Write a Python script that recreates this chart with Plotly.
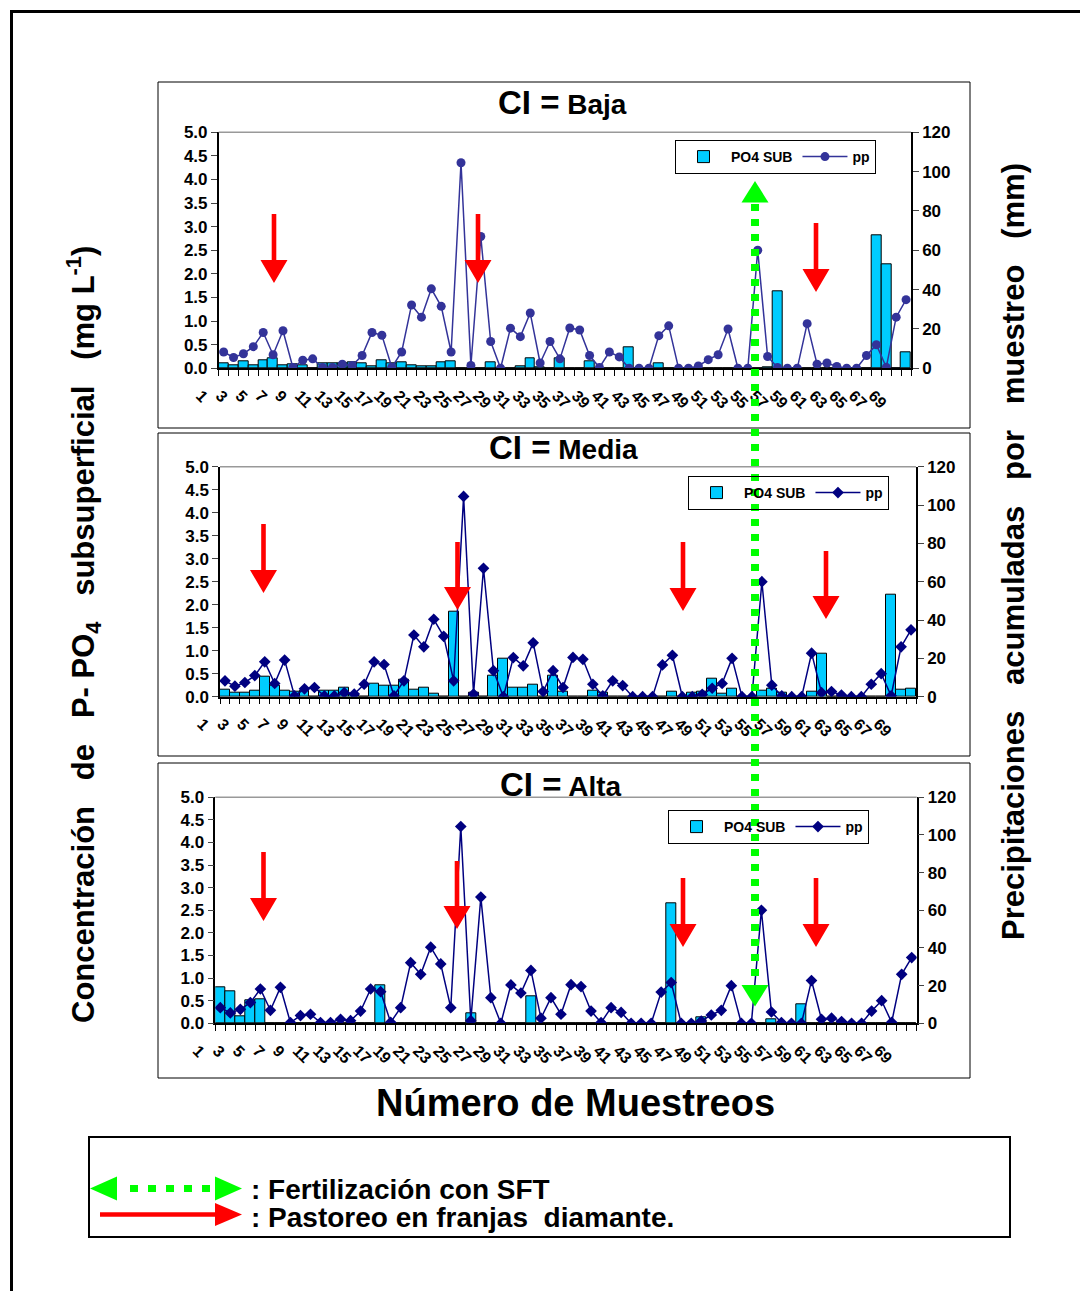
import plotly.graph_objects as go

W, H = 1080, 1291

# ---------------- data ----------------
cats = list(range(1, 71))
tick_vals = list(range(1, 70, 2))
tick_text = [str(v) for v in tick_vals]

# precipitation (mm) per sampling, same in the three panels
pp = [8.3, 5.5, 7.4, 11.0, 18.2, 6.9, 19.1, 0.4, 4.1, 4.8,
      0.4, 0.4, 2.1, 1.4, 6.5, 18.2, 16.8, 0.5, 8.3, 32.2,
      26.0, 40.4, 31.5, 8.3, 104.5, 1.4, 67.0, 13.6, 0.0, 20.4,
      16.1, 28.1, 2.7, 13.6, 4.8, 20.5, 19.5, 6.5, 0.4, 8.3,
      5.8, 0.0, 0.0, 0.0, 16.6, 21.6, 0.0, 0.0, 1.2, 4.4,
      6.9, 20.0, 0.0, 0.0, 60.0, 6.0, 0.4, 0.0, 0.0, 22.7,
      2.1, 2.7, 0.9, 0.0, 0.0, 6.5, 12.0, 0.5, 26.0, 34.9]

po4_baja = [0.11, 0.07, 0.15, 0.07, 0.17, 0.21, 0.07, 0.09, 0.07, 0.01,
            0.10, 0.10, 0.10, 0.12, 0.10, 0.05, 0.18, 0.10, 0.13, 0.07,
            0.05, 0.05, 0.13, 0.15, 0.01, 0.01, 0.00, 0.13, 0.00, 0.01,
            0.05, 0.21, 0.03, 0.00, 0.21, 0.00, 0.00, 0.15, 0.00, 0.00,
            0.00, 0.44, 0.00, 0.00, 0.11, 0.00, 0.00, 0.00, 0.00, 0.00,
            0.00, 0.00, 0.00, 0.00, 0.00, 0.02, 1.64, 0.00, 0.00, 0.00,
            0.00, 0.00, 0.00, 0.00, 0.00, 0.00, 2.81, 2.21, 0.00, 0.34]

po4_media = [0.16, 0.09, 0.09, 0.12, 0.43, 0.25, 0.12, 0.11, 0.12, 0.00,
             0.12, 0.14, 0.20, 0.05, 0.00, 0.29, 0.25, 0.23, 0.36, 0.16,
             0.20, 0.06, 0.00, 1.85, 0.00, 0.08, 0.00, 0.46, 0.82, 0.20,
             0.20, 0.27, 0.00, 0.45, 0.11, 0.00, 0.00, 0.14, 0.08, 0.00,
             0.00, 0.00, 0.00, 0.00, 0.00, 0.11, 0.00, 0.09, 0.11, 0.40,
             0.07, 0.18, 0.00, 0.00, 0.13, 0.17, 0.09, 0.00, 0.00, 0.11,
             0.94, 0.00, 0.00, 0.00, 0.00, 0.00, 0.00, 2.22, 0.16, 0.17]

po4_alta = [0.80, 0.71, 0.16, 0.50, 0.53, 0.00, 0.00, 0.00, 0.00, 0.00,
            0.00, 0.00, 0.00, 0.00, 0.00, 0.00, 0.84, 0.00, 0.00, 0.00,
            0.00, 0.00, 0.00, 0.00, 0.01, 0.22, 0.00, 0.00, 0.00, 0.00,
            0.00, 0.60, 0.00, 0.00, 0.00, 0.00, 0.00, 0.00, 0.00, 0.00,
            0.00, 0.00, 0.00, 0.00, 0.00, 2.65, 0.00, 0.00, 0.13, 0.00,
            0.00, 0.00, 0.00, 0.00, 0.00, 0.09, 0.00, 0.00, 0.41, 0.00,
            0.00, 0.00, 0.00, 0.00, 0.00, 0.00, 0.00, 0.00, 0.00, 0.00]

panel_names = ["Baja", "Media", "Alta"]
panel_po4 = [po4_baja, po4_media, po4_alta]

# ---------------- layout geometry (pixels) ----------------
def px(x):
    return x / W

def py(y):
    return 1 - y / H

plot_px = [(218.7, 911.0, 132.3, 368.3),
           (220.0, 916.0, 466.7, 696.7),
           (215.3, 916.7, 797.3, 1023.3)]
box_px = [(158, 82, 970, 428), (158, 433, 970, 756), (158, 763, 970, 1078)]
title_px = [(562, 102), (563, 448), (561, 785)]
legend_px = [(675, 140), (688, 476), (668, 810)]
pp_style = [dict(color="#333399", symbol="circle", size=9),
            dict(color="#000080", symbol="diamond", size=9),
            dict(color="#000080", symbol="diamond", size=9)]

BOLD = "bold"
FONT = "Liberation Sans"

fig = go.Figure()
layout = dict(
    width=W, height=H, autosize=False,
    margin=dict(l=0, r=0, t=0, b=0, pad=0, autoexpand=False),
    paper_bgcolor="white", plot_bgcolor="rgba(0,0,0,0)",
    bargap=0, barmode="overlay",
    font=dict(family=FONT, color="black"),
)
shapes = []
annotations = []

for i in range(3):
    x0, x1, yt, yb = plot_px[i]
    xname = "x" if i == 0 else f"x{i+1}"
    xkey = "xaxis" if i == 0 else f"xaxis{i+1}"
    yl_id, yr_id = 2 * i + 1, 2 * i + 2
    ylname = "y" if yl_id == 1 else f"y{yl_id}"
    yrname = f"y{yr_id}"
    ylkey = "yaxis" if yl_id == 1 else f"yaxis{yl_id}"
    yrkey = f"yaxis{yr_id}"
    legkey = "legend" if i == 0 else f"legend{i+1}"

    layout[xkey] = dict(
        domain=[px(x0), px(x1)], anchor=ylname, range=[0.5, 70.5],
        tickmode="array", tickvals=tick_vals, ticktext=tick_text,
        tickangle=45, ticks="", showline=True, linecolor="black",
        linewidth=1.5, showgrid=False, zeroline=False, automargin=False,
        tickfont=dict(size=16, weight=BOLD, family=FONT),
        ticklabelshift=-23, ticklabelstandoff=10,
        minor=dict(tick0=0.5, dtick=1, ticks="outside", ticklen=6,
                   tickwidth=1, tickcolor="black", showgrid=False),
    )
    layout[ylkey] = dict(
        domain=[py(yb), py(yt)], anchor=xname, range=[0, 5],
        tick0=0, dtick=0.5, tickformat=".1f", ticks="outside", ticklen=6,
        showline=True, linecolor="black", linewidth=1.5, showgrid=False,
        zeroline=False, automargin=False,
        tickfont=dict(size=17, weight=BOLD, family=FONT),
    )
    layout[yrkey] = dict(
        overlaying=ylname, side="right", anchor=xname, range=[0, 120],
        tick0=0, dtick=20, ticks="outside", ticklen=6, showline=True,
        linecolor="black", linewidth=1.5, showgrid=False, zeroline=False,
        automargin=False, tickfont=dict(size=17, weight=BOLD, family=FONT),
    )
    lx, ly = legend_px[i]
    layout[legkey] = dict(
        x=px(lx), y=py(ly), xanchor="left", yanchor="top",
        orientation="h", bgcolor="rgba(255,255,255,0)",
        bordercolor="black", borderwidth=1, itemwidth=45,
        font=dict(size=14, weight=BOLD, family=FONT),
    )

    fig.add_trace(go.Bar(
        x=cats, y=panel_po4[i], name="PO4 SUB", xaxis=xname, yaxis=ylname,
        marker=dict(color="#00CCFF", line=dict(color="black", width=1)),
        legend=legkey,
    ))
    st = pp_style[i]
    fig.add_trace(go.Scatter(
        x=cats, y=pp, name="pp", mode="lines+markers", xaxis=xname,
        yaxis=yrname, line=dict(color=st["color"], width=1.5),
        marker=dict(symbol=st["symbol"], size=st["size"], color=st["color"]),
        legend=legkey,
    ))

    # grey top border of plot area
    shapes.append(dict(type="line", xref="paper", yref="paper",
                       x0=px(x0), x1=px(x1), y0=py(yt), y1=py(yt),
                       line=dict(color="#999999", width=1.5)))
    # panel frame
    bx0, by0, bx1, by1 = box_px[i]
    shapes.append(dict(type="rect", xref="paper", yref="paper",
                       x0=px(bx0), x1=px(bx1), y0=py(by1), y1=py(by0),
                       line=dict(color="black", width=1)))
    tx, ty = title_px[i]
    annotations.append(dict(
        x=px(tx), y=py(ty), xref="paper", yref="paper", showarrow=False,
        xanchor="center", yanchor="middle",
        text='<span style="font-size:33px">CI =</span> ' + panel_names[i],
        font=dict(size=28, weight=BOLD, family=FONT),
    ))

# page frame (top and left)
shapes.append(dict(type="line", xref="paper", yref="paper", x0=px(10), x1=px(1080),
                   y0=py(11.5), y1=py(11.5), line=dict(color="black", width=3)))
shapes.append(dict(type="line", xref="paper", yref="paper", x0=px(11.5), x1=px(11.5),
                   y0=py(10), y1=py(1291), line=dict(color="black", width=3)))


def poly(points, color):
    d = "M " + " L ".join(f"{px(x):.5f},{py(y):.5f}" for x, y in points) + " Z"
    return dict(type="path", xref="paper", yref="paper", path=d,
                fillcolor=color, line=dict(width=0))


# red grazing arrows (x centre, top of shaft, tip) in pixels
red_arrows = [(274, 214, 283), (478, 214, 283), (816, 223, 292),
              (263.5, 524, 593), (457.5, 542, 610), (683, 542, 611), (826, 551, 619),
              (263.5, 852, 921), (457, 861, 929), (683, 878, 947), (816, 878, 947)]
for cx, top, tip in red_arrows:
    base = tip - 23
    shapes.append(poly([(cx - 2.3, top), (cx + 2.3, top), (cx + 2.3, base),
                        (cx + 13.5, base), (cx, tip), (cx - 13.5, base),
                        (cx - 2.3, base)], "#FF0000"))

# green fertilisation arrow across panels
GREEN = "#00FF00"
shapes.append(dict(type="line", xref="paper", yref="paper", x0=px(755), x1=px(755),
                   y0=py(204), y1=py(984), line=dict(color=GREEN, width=8, dash="7px,8px")))
shapes.append(poly([(755, 181), (768.5, 202.5), (741.5, 202.5)], GREEN))
shapes.append(poly([(755, 1006.5), (768.5, 985), (741.5, 985)], GREEN))

# bottom legend box
shapes.append(dict(type="rect", xref="paper", yref="paper", x0=px(89), x1=px(1010),
                   y0=py(1237), y1=py(1137), line=dict(color="black", width=2)))
gy = 1188.5
shapes.append(dict(type="line", xref="paper", yref="paper", x0=px(130), x1=px(213),
                   y0=py(gy), y1=py(gy), line=dict(color=GREEN, width=7, dash="8px,10px")))
shapes.append(poly([(90, gy), (117, gy - 12), (117, gy + 12)], GREEN))
shapes.append(poly([(242, gy), (215, gy - 12), (215, gy + 12)], GREEN))
ry = 1214.5
shapes.append(poly([(100, ry - 2.3), (216, ry - 2.3), (216, ry + 2.3), (100, ry + 2.3)], "#FF0000"))
shapes.append(poly([(242, ry), (215, ry - 11.5), (215, ry + 11.5)], "#FF0000"))

annotations.append(dict(x=px(249), y=py(1189), xref="paper", yref="paper", showarrow=False,
                        xanchor="left", yanchor="middle", text=": Fertilización con SFT",
                        font=dict(size=28, weight=BOLD, family=FONT)))
annotations.append(dict(x=px(249), y=py(1217), xref="paper", yref="paper", showarrow=False,
                        xanchor="left", yanchor="middle",
                        text=": Pastoreo en franjas\u00a0\u00a0diamante.",
                        font=dict(size=28, weight=BOLD, family=FONT)))

# axis titles
g = "\u00a0" * 3
annotations.append(dict(
    x=px(83), y=py(635), xref="paper", yref="paper", showarrow=False, textangle=-90,
    xanchor="center", yanchor="middle",
    text=f"Concentración{g}de{g}P- PO<sub>4</sub>{g}subsuperficial{g}(mg L<sup>-1</sup>)",
    font=dict(size=31, weight=BOLD, family=FONT)))
annotations.append(dict(
    x=px(1013), y=py(552), xref="paper", yref="paper", showarrow=False, textangle=-90,
    xanchor="center", yanchor="middle",
    text=f"Precipitaciones{g}acumuladas{g}por{g}muestreo{g}(mm)",
    font=dict(size=31, weight=BOLD, family=FONT)))
annotations.append(dict(
    x=px(575), y=py(1103), xref="paper", yref="paper", showarrow=False,
    xanchor="center", yanchor="middle", text="Número de Muestreos",
    font=dict(size=38, weight=BOLD, family=FONT)))

layout["shapes"] = shapes
layout["annotations"] = annotations
fig.update_layout(**layout)

fig.write_html("out.html")
